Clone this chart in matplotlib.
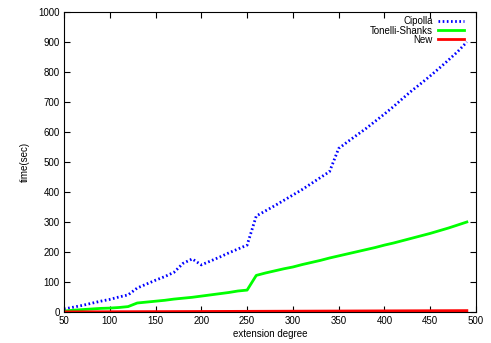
import matplotlib
matplotlib.use("Agg")
import matplotlib.pyplot as plt
import numpy as np

degree = list(range(50, 500, 10))
cipolla = [10, 16, 22, 29, 36, 42, 50, 57, 80, 93, 106, 118, 132, 162, 177, 157,
           170, 183, 197, 210, 223, 320, 337, 354, 372, 390, 408, 428, 448, 468,
           545, 568, 590, 612, 636, 660, 685, 712, 738, 762, 787, 813, 840, 868, 900]
tonelli = [3, 6, 8, 10, 12, 13, 15, 18, 30, 33, 36, 39, 43, 46, 49, 53, 57, 61, 65,
           70, 73, 122, 130, 137, 144, 150, 158, 165, 172, 180, 187, 194, 201, 208,
           215, 223, 230, 238, 246, 254, 262, 271, 280, 290, 300]
new = [0.5, 0.5, 0.6, 0.7, 0.8, 0.9, 1.0, 1.0, 1.1, 1.2, 1.3, 1.3, 1.4, 1.5, 1.6,
       1.7, 1.8, 1.9, 2.0, 2.1, 2.2, 2.3, 2.4, 2.5, 2.6, 2.7, 2.8, 2.9, 3.0, 3.1,
       3.2, 3.3, 3.4, 3.5, 3.6, 3.7, 3.8, 3.9, 4.0, 4.1, 4.2, 4.3, 4.4, 4.5, 4.6]

plt.rcParams['font.family'] = ['Liberation Sans', 'DejaVu Sans']
fig = plt.figure(figsize=(4.91, 3.43), dpi=100)
ax = fig.add_axes([64/491, 31/343, 412/491, 300/343])

ax.plot(degree, cipolla, color='#0000ff', lw=2, linestyle=(0, (0.6, 0.9)), label='Cipolla')
ax.plot(degree, tonelli, color='#00ff00', lw=2, label='Tonelli-Shanks')
ax.plot(degree, new, color='#ff0000', lw=2, label='New')

ax.set_xlim(50, 500)
ax.set_ylim(0, 1000)
ax.set_xticks(range(50, 501, 50))
ax.set_yticks(range(0, 1001, 100))
ax.tick_params(direction='in', length=4, width=0.8, top=True, right=True, labelsize=7, pad=3)
ax.set_xlabel('extension degree', fontsize=7, labelpad=2)
ax.set_ylabel('time(sec)', fontsize=7, labelpad=6)
for s in ax.spines.values():
    s.set_linewidth(0.8)

leg = ax.legend(loc='upper right', bbox_to_anchor=(1 - 12/412, 1 - 4.5/300),
                markerfirst=False, frameon=False, fontsize=7,
                handlelength=2.7, labelspacing=-0.1, borderaxespad=0, borderpad=0,
                handletextpad=0.5)
for t in leg.get_texts():
    t.set_ha('right')

fig.savefig('out.png', dpi=100)
